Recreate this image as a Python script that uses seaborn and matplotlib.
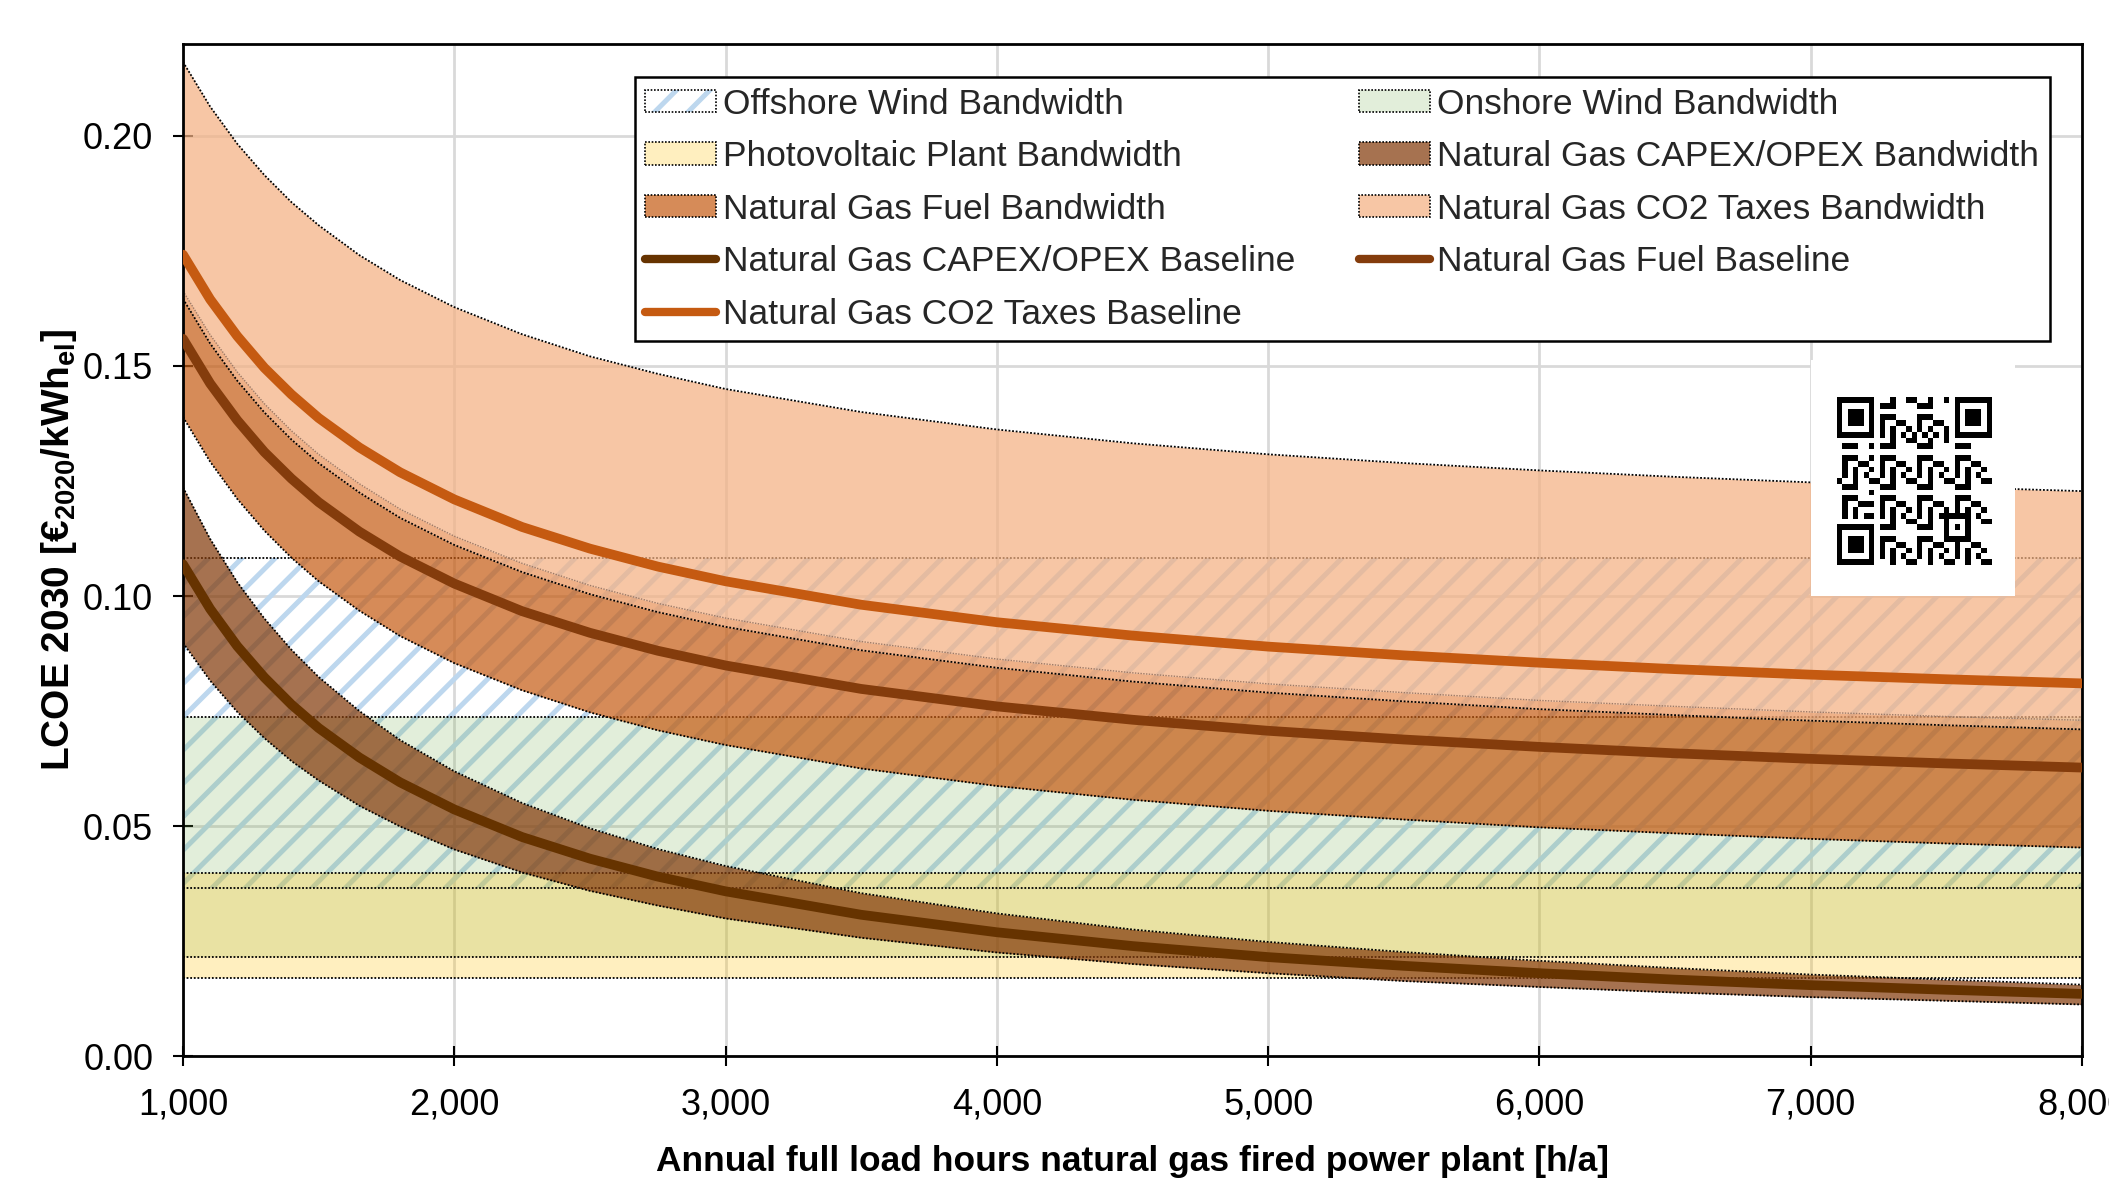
import numpy as np
import pandas as pd
import matplotlib
matplotlib.use("Agg")
import matplotlib.pyplot as plt
import seaborn as sns
from matplotlib.patches import Patch, Rectangle
from matplotlib.lines import Line2D
from matplotlib.ticker import FuncFormatter

# ---------------- data ----------------
hours = [1000, 1100, 1200, 1300, 1400, 1500, 1650, 1800, 2000, 2250, 2500, 2750,
         3000, 3500, 4000, 4500, 5000, 5500, 6000, 6500, 7000, 7500, 8000]

capex_low = [0.0898, 0.0816, 0.0748, 0.0691, 0.0641, 0.0599, 0.0544, 0.0499, 0.0449, 0.0399,
             0.0359, 0.0327, 0.0299, 0.0257, 0.0225, 0.0200, 0.0180, 0.0163, 0.0150, 0.0138,
             0.0128, 0.0120, 0.0112]
capex_base = [0.1069, 0.0972, 0.0891, 0.0823, 0.0764, 0.0713, 0.0649, 0.0595, 0.0536, 0.0476,
              0.0429, 0.0390, 0.0358, 0.0307, 0.0269, 0.0239, 0.0215, 0.0196, 0.0180, 0.0166,
              0.0154, 0.0144, 0.0135]
capex_high = [0.1236, 0.1124, 0.1030, 0.0951, 0.0883, 0.0824, 0.0750, 0.0687, 0.0619, 0.0550,
              0.0495, 0.0450, 0.0413, 0.0354, 0.0310, 0.0275, 0.0248, 0.0226, 0.0207, 0.0191,
              0.0177, 0.0166, 0.0155]

fuel_low = [0.1389, 0.1292, 0.1211, 0.1142, 0.1083, 0.1032, 0.0968, 0.0913, 0.0854, 0.0795,
            0.0747, 0.0708, 0.0676, 0.0625, 0.0587, 0.0557, 0.0533, 0.0514, 0.0497, 0.0484,
            0.0472, 0.0462, 0.0453]
fuel_base = [0.1559, 0.1462, 0.1382, 0.1313, 0.1255, 0.1204, 0.1140, 0.1086, 0.1027, 0.0967,
             0.0920, 0.0881, 0.0849, 0.0798, 0.0760, 0.0731, 0.0707, 0.0688, 0.0672, 0.0658,
             0.0646, 0.0636, 0.0627]
fuel_high = [0.1646, 0.1549, 0.1468, 0.1399, 0.1340, 0.1289, 0.1225, 0.1170, 0.1111, 0.1052,
             0.1004, 0.0965, 0.0933, 0.0882, 0.0844, 0.0814, 0.0790, 0.0771, 0.0754, 0.0741,
             0.0729, 0.0719, 0.0710]

co2_low = [0.1663, 0.1568, 0.1487, 0.1418, 0.1359, 0.1308, 0.1244, 0.1189, 0.1130, 0.1071,
           0.1023, 0.0984, 0.0952, 0.0901, 0.0863, 0.0833, 0.0809, 0.0790, 0.0773, 0.0760,
           0.0748, 0.0738, 0.0730]
co2_base = [0.1742, 0.1645, 0.1565, 0.1496, 0.1438, 0.1387, 0.1323, 0.1269, 0.1210, 0.1150,
            0.1103, 0.1064, 0.1032, 0.0981, 0.0943, 0.0914, 0.0890, 0.0871, 0.0855, 0.0841,
            0.0829, 0.0819, 0.0810]
co2_high = [0.2161, 0.2064, 0.1983, 0.1915, 0.1856, 0.1806, 0.1741, 0.1687, 0.1628, 0.1569,
            0.1521, 0.1483, 0.1450, 0.1400, 0.1362, 0.1332, 0.1308, 0.1289, 0.1273, 0.1259,
            0.1247, 0.1237, 0.1228]

x_span = [1000, 8000]
offshore_range = [0.0366, 0.1082]
onshore_range = [0.0215, 0.0738]
pv_range = [0.0170, 0.0398]

x_ticks = [1000, 2000, 3000, 4000, 5000, 6000, 7000, 8000]
y_ticks = [0.00, 0.05, 0.10, 0.15, 0.20]

labels = {
    "off": "Offshore Wind Bandwidth",
    "on": "Onshore Wind Bandwidth",
    "pv": "Photovoltaic Plant Bandwidth",
    "capex_band": "Natural Gas CAPEX/OPEX Bandwidth",
    "fuel_band": "Natural Gas Fuel Bandwidth",
    "co2_band": "Natural Gas CO2 Taxes Bandwidth",
    "capex_line": "Natural Gas CAPEX/OPEX Baseline",
    "fuel_line": "Natural Gas Fuel Baseline",
    "co2_line": "Natural Gas CO2 Taxes Baseline",
}

# ---------------- colours / styles ----------------
c_off_hatch = "#BDD7EE"
c_on = (0.439, 0.678, 0.278, 0.20)     # #70AD47 @ 0.2
c_pv = (1.0, 0.753, 0.0, 0.25)         # #FFC000 @ 0.25
c_co2 = (0.957, 0.694, 0.514, 0.72)    # #F4B183
c_fuel = (0.773, 0.353, 0.067, 0.70)   # #C55A11
c_capex = (0.518, 0.235, 0.047, 0.72)  # #843C0C
l_capex = "#663300"
l_fuel = "#843C0C"
l_co2 = "#C55A11"
dots = (0, (1, 1))

sns.set_theme(style="white")
plt.rcParams["font.family"] = ["Liberation Sans", "DejaVu Sans"]
plt.rcParams["mathtext.fontset"] = "custom"
plt.rcParams["mathtext.rm"] = "Liberation Sans"
plt.rcParams["mathtext.bf"] = "Liberation Sans:bold"
plt.rcParams["mathtext.it"] = "Liberation Sans:italic"
plt.rcParams["hatch.linewidth"] = 3.6

fig = plt.figure(figsize=(21.09, 11.85), dpi=100)
ax = fig.add_axes([0.08677, 0.10886, 0.90043, 0.85401])

# ---------------- horizontal renewables bands ----------------
ax.fill_between(x_span, [offshore_range[0]] * 2, [offshore_range[1]] * 2,
                facecolor="none", edgecolor=c_off_hatch, hatch="/", linewidth=0, zorder=1.0)
ax.fill_between(x_span, [onshore_range[0]] * 2, [onshore_range[1]] * 2,
                facecolor=c_on, linewidth=0, zorder=1.1)
ax.fill_between(x_span, [pv_range[0]] * 2, [pv_range[1]] * 2,
                facecolor=c_pv, linewidth=0, zorder=1.2)
for v in offshore_range + onshore_range + pv_range:
    ax.plot(x_span, [v, v], color="black", lw=1.3, ls=dots, zorder=1.3)

# ---------------- natural gas bands ----------------
ax.fill_between(hours, co2_low, co2_high, facecolor=c_co2, linewidth=0, zorder=2.0)
ax.fill_between(hours, fuel_high, co2_low, facecolor=(0.92, 0.62, 0.42, 0.80), linewidth=0, zorder=2.0)
ax.fill_between(hours, fuel_low, fuel_high, facecolor=c_fuel, linewidth=0, zorder=2.1)
ax.fill_between(hours, capex_low, capex_high, facecolor=c_capex, linewidth=0, zorder=2.2)
for series in (co2_high, fuel_high, fuel_low, capex_high, capex_low):
    ax.plot(hours, series, color="black", lw=1.3, ls=dots, zorder=2.5)
ax.plot(hours, co2_low, color="#9E7A66", lw=1.0, ls=dots, zorder=2.5)

# ---------------- baselines (seaborn) ----------------
base_df = pd.DataFrame({
    "hours": hours * 3,
    "lcoe": capex_base + fuel_base + co2_base,
    "series": [labels["capex_line"]] * len(hours) + [labels["fuel_line"]] * len(hours)
              + [labels["co2_line"]] * len(hours),
})
sns.lineplot(data=base_df, x="hours", y="lcoe", hue="series",
             palette={labels["capex_line"]: l_capex, labels["fuel_line"]: l_fuel,
                      labels["co2_line"]: l_co2},
             linewidth=7, legend=False, ax=ax, zorder=3, sort=False)

# ---------------- axes styling ----------------
ax.set_xlim(1000, 8000)
ax.set_ylim(0, 0.22)
ax.set_xticks(x_ticks)
ax.set_yticks(y_ticks)
ax.xaxis.set_major_formatter(FuncFormatter(lambda v, p: f"{int(round(v)):,}"))
ax.yaxis.set_major_formatter(FuncFormatter(lambda v, p: f"{v:.2f}"))
ax.grid(True, color="#D9D9D9", lw=2)
ax.set_axisbelow(True)
for s in ax.spines.values():
    s.set_color("black")
    s.set_linewidth(2)
    s.set_visible(True)
ax.tick_params(direction="inout", length=15, width=1.5, colors="black", labelsize=26,
               bottom=True, left=True)
ax.tick_params(axis="y", pad=14)
ax.tick_params(axis="x", pad=15)

ax.set_xlabel("Annual full load hours natural gas fired power plant [h/a]",
              fontsize=25.5, fontweight="bold", color="black")
ax.xaxis.set_label_coords(0.5, -0.088)
ax.set_ylabel(r"LCOE 2030 [€$_{\mathbf{2020}}$/kWh$_{\mathbf{el}}$]",
              fontsize=28, fontweight="bold", color="black")
ax.yaxis.set_label_coords(-0.055, 0.5)

# ---------------- QR code box ----------------
ax.add_patch(Rectangle((0.8573, 0.4545), 0.1074, 0.2332, transform=ax.transAxes,
                       facecolor="white", edgecolor="none", zorder=4))
n = 29
ii, jj = np.indices((n, n))
qr = (((ii * ii * 3 + jj * 5 + ii * jj) % 7) < 3).astype(int)
qr[6, :] = (np.arange(n) % 2 == 0)
qr[:, 6] = (np.arange(n) % 2 == 0)
for (r, c) in [(0, 0), (0, n - 7), (n - 7, 0)]:
    r0, r1 = max(r - 1, 0), min(r + 8, n)
    c0, c1 = max(c - 1, 0), min(c + 8, n)
    qr[r0:r1, c0:c1] = 0
    qr[r:r + 7, c:c + 7] = 1
    qr[r + 1:r + 6, c + 1:c + 6] = 0
    qr[r + 2:r + 5, c + 2:c + 5] = 1
qr[20:25, 20:25] = 1
qr[21:24, 21:24] = 0
qr[22, 22] = 1
qax = ax.inset_axes([0.8710, 0.4852, 0.0811, 0.1660], zorder=4.5)
qax.imshow(qr, cmap="gray_r", interpolation="nearest", aspect="auto", vmin=0, vmax=1)
qax.axis("off")

# ---------------- legend ----------------
h_off = (Patch(facecolor="white", edgecolor=c_off_hatch, hatch="/", lw=0),
         Patch(facecolor="none", edgecolor="black", ls=dots, lw=1.2))
h_on = Patch(facecolor=c_on, edgecolor="black", ls=dots, lw=1.2)
h_pv = Patch(facecolor=c_pv, edgecolor="black", ls=dots, lw=1.2)
h_capex_b = Patch(facecolor=c_capex, edgecolor="black", ls=dots, lw=1.2)
h_fuel_b = Patch(facecolor=c_fuel, edgecolor="black", ls=dots, lw=1.2)
h_co2_b = Patch(facecolor=c_co2, edgecolor="black", ls=dots, lw=1.2)
h_capex_l = Line2D([], [], color=l_capex, lw=6, solid_capstyle="round")
h_fuel_l = Line2D([], [], color=l_fuel, lw=6, solid_capstyle="round")
h_co2_l = Line2D([], [], color=l_co2, lw=6, solid_capstyle="round")

handles = [h_off, h_pv, h_fuel_b, h_capex_l, h_co2_l, h_on, h_capex_b, h_co2_b, h_fuel_l]
leg_labels = [labels["off"], labels["pv"], labels["fuel_band"], labels["capex_line"],
              labels["co2_line"], labels["on"], labels["capex_band"], labels["co2_band"],
              labels["fuel_line"]]
leg = ax.legend(handles, leg_labels, ncol=2, loc="upper right", bbox_to_anchor=(0.983, 0.9674),
                borderaxespad=0, fontsize=25.5, frameon=True, fancybox=False, framealpha=1,
                edgecolor="black", facecolor="white", handlelength=2.0, handleheight=0.6,
                handletextpad=0.2, columnspacing=1.8, labelspacing=0.55, borderpad=0.3)
leg.get_frame().set_linewidth(1.8)
leg.set_zorder(6)

fig.savefig("out.png", dpi=100)
